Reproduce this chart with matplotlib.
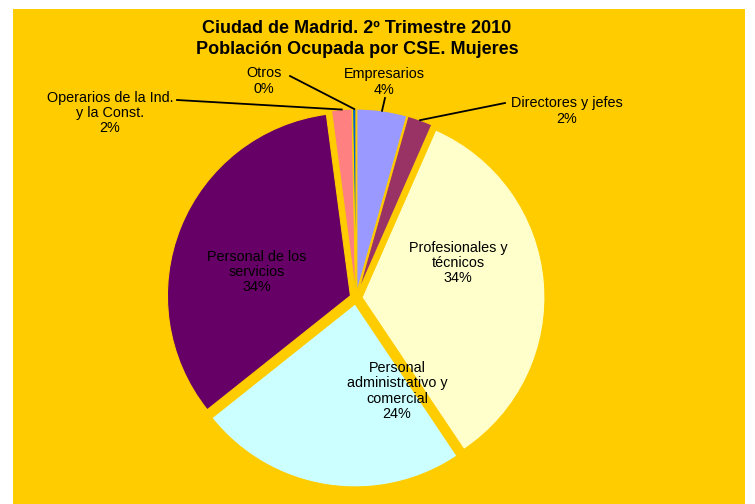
# Ciudad de Madrid - Poblacion ocupada por CSE (Mujeres), 2T 2010
import numpy as np
import matplotlib.pyplot as plt
from matplotlib.patches import Rectangle

plt.rcParams['font.family'] = ['Liberation Sans', 'DejaVu Sans']

# data
categories = ['Empresarios', 'Directores y jefes', 'Profesionales y\ntécnicos',
              'Personal\nadministrativo y\ncomercial', 'Personal de los\nservicios',
              'Operarios de la Ind.\ny la Const.', 'Otros']
values = [4.4, 2.2, 34.0, 23.7, 33.6, 1.8, 0.3]
colors = ['#9999FF', '#993366', '#FFFFCC', '#CCFFFF', '#660066', '#FF8080', '#0066CC']

W, H = 755, 504
bg = '#FFCC00'

fig = plt.figure(figsize=(W / 100, H / 100), dpi=100)
fig.patches.append(Rectangle((13 / W, 0), 732 / W, 495 / H, transform=fig.transFigure,
                             facecolor=bg, edgecolor='none', zorder=-5))
ax = fig.add_axes([0, 0, 1, 1])
ax.set_zorder(1)
ax.patch.set_alpha(0)

center = (356, H - 298)
R = 183
# explode is in data units here (pixels)
wedges, _ = ax.pie(values, colors=colors, startangle=90, counterclock=False,
                   explode=[6] * len(values), radius=R, center=center,
                   wedgeprops=dict(edgecolor=bg, linewidth=0.8))
ax.set_xlim(0, W)
ax.set_ylim(0, H)
ax.set_aspect('equal')
ax.axis('off')

fig.text(357 / W, 1 - 39 / H, 'Ciudad de Madrid. 2º Trimestre 2010\nPoblación Ocupada por CSE. Mujeres',
         ha='center', va='center', fontsize=13, fontweight='bold', linespacing=1.3)

pct = ['%d%%' % round(v) for v in values]

def edge_point(w):
    a = np.deg2rad((w.theta1 + w.theta2) / 2)
    cx, cy = w.center
    return cx + w.r * np.cos(a), cy + w.r * np.sin(a)

fs = 10.4
# labels inside the slices
inside = {2: (458, 263), 3: (397, 391), 4: (257, 272)}
for i, (x, y) in inside.items():
    ax.text(x, H - y, categories[i] + '\n' + pct[i], ha='center', va='center',
            fontsize=fs, color='black', linespacing=1.1)

# labels outside with leader lines: (text pos, line start)
outside = {0: ((384, 82), (385, 98)),
           1: ((567, 111), (505, 103)),
           5: ((110, 113), (177, 100)),
           6: ((264, 81), (290, 76))}
for i, ((x, y), (lx, ly)) in outside.items():
    ax.text(x, H - y, categories[i] + '\n' + pct[i], ha='center', va='center',
            fontsize=fs, color='black', linespacing=1.1)
    px, py = edge_point(wedges[i])
    ax.plot([lx, px], [H - ly, py], color='black', linewidth=1.3)

fig.savefig('out.png', dpi=100)
